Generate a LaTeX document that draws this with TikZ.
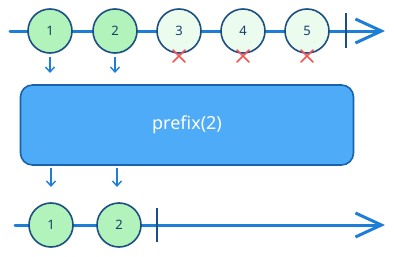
\documentclass[tikz,border=0pt]{standalone}
\usepackage{fontspec}
\setmainfont{Noto Sans}
\usetikzlibrary{arrows.meta}
\definecolor{lineblue}{HTML}{1C7ED6}
\definecolor{ringblue}{HTML}{1B4F84}
\definecolor{greenfill}{HTML}{B2F2BB}
\definecolor{palefill}{HTML}{EBFBEE}
\definecolor{boxfill}{HTML}{4DABF7}
\definecolor{boxdraw}{HTML}{1864AB}
\definecolor{crossred}{HTML}{FA5252}
\tikzset{
  timeline/.style={draw=lineblue, line width=3pt, line cap=round, -{Straight Barb[length=26pt,width=24pt,line width=3pt]}},
  marble/.style={circle, draw=ringblue, line width=1.6pt, minimum size=44pt, inner sep=0pt, font=\fontsize{13}{13}\selectfont, text=ringblue!80!black},
  emitted/.style={marble, fill=greenfill},
  dropped/.style={marble, fill=palefill},
  endtick/.style={draw=ringblue, line width=1.6pt},
  smallarrow/.style={draw=lineblue, line width=1.4pt, -{Straight Barb[length=5pt,width=9pt,line width=1.4pt]}},
  opbox/.style={draw=boxdraw, fill=boxfill, line width=1.6pt, rounded corners=12pt, minimum width=333pt, minimum height=80pt, text=white, font=\fontsize{18}{18}\selectfont},
  crossmark/.style={draw=crossred, line width=1.6pt, line cap=round}
}
\begin{document}
\begin{tikzpicture}[x=1pt,y=-1pt]
\useasboundingbox (0,0) rectangle (394,257);
% top timeline
\coordinate (ts) at (10,31);
\coordinate (te) at (385,31);
\draw[timeline] (ts) -- (te);
\coordinate (tk1) at (346,13);
\coordinate (tk2) at (346,48);
\draw[endtick] (tk1) -- (tk2);
\node[emitted] (a1) at (50,31) {1};
\node[emitted] (a2) at (115,31) {2};
\node[dropped] (a3) at (179,31) {3};
\node[dropped] (a4) at (243,31) {4};
\node[dropped] (a5) at (307,31) {5};
\foreach \n/\x in {3/179,4/243,5/307}{
  \coordinate (c\n) at (\x,56);
  \draw[crossmark] ([shift={(-6,-6)}]c\n) -- ([shift={(6,6)}]c\n);
  \draw[crossmark] ([shift={(6,-6)}]c\n) -- ([shift={(-6,6)}]c\n);
}
% operator box
\node[opbox] (op) at (187,125) {prefix(2)};
\coordinate (u1) at (50,73);
\coordinate (u2) at (115,73);
\draw[smallarrow] (a1.south) ++(0,3) -- (u1);
\draw[smallarrow] (a2.south) ++(0,3) -- (u2);
% bottom timeline
\coordinate (bs) at (15,225);
\coordinate (be) at (385,225);
\draw[timeline] (bs) -- (be);
\node[emitted] (b1) at (51,225) {1};
\node[emitted] (b2) at (119,225) {2};
\coordinate (bk1) at (157,208);
\coordinate (bk2) at (157,242);
\draw[endtick] (bk1) -- (bk2);
\coordinate (d1) at (51,187);
\coordinate (d2) at (117,187);
\draw[smallarrow] (op.south -| d1) ++(0,2) -- (d1);
\draw[smallarrow] (op.south -| d2) ++(0,2) -- (d2);
\end{tikzpicture}
\end{document}
